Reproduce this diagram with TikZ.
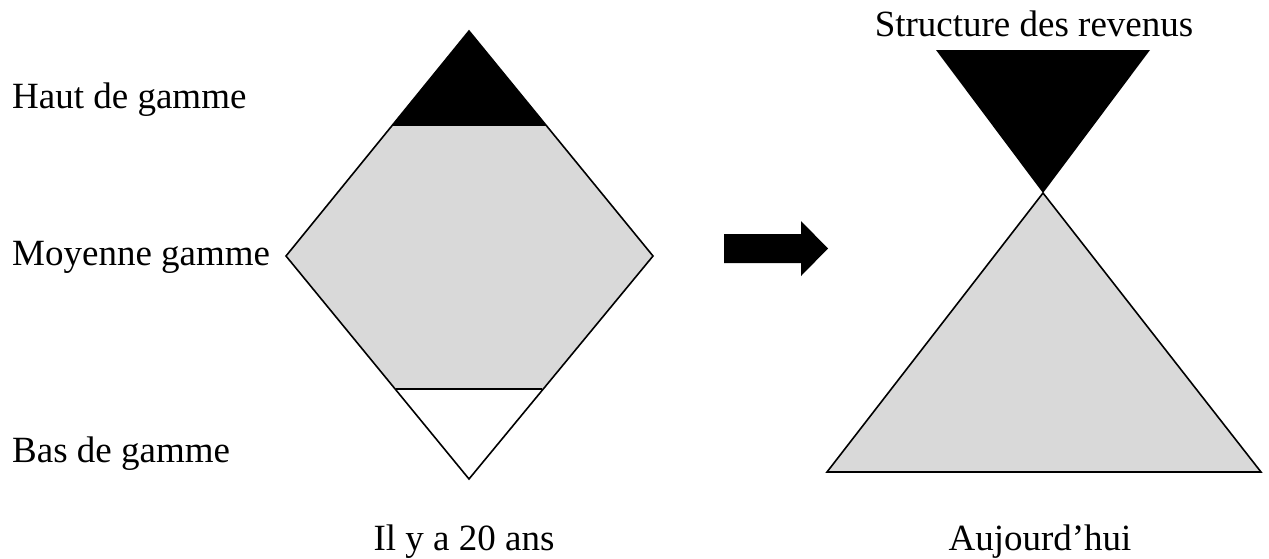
\documentclass[tikz,border=0pt]{standalone}
\usepackage{fontspec}
\setmainfont{Liberation Serif}
\definecolor{midgray}{RGB}{217,217,217}
\tikzset{
  lbl/.style={anchor=base west, inner sep=0pt, font=\fontsize{37}{44}\selectfont},
  captxt/.style={anchor=base, inner sep=0pt, font=\fontsize{37}{44}\selectfont},
  outline/.style={line width=1.6pt, line join=miter}
}
\begin{document}
\begin{tikzpicture}[x=1pt,y=-1pt]
\useasboundingbox (0,0) rectangle (1269,558);
% left diamond
\coordinate (dT) at (469,31);
\coordinate (dL) at (286,256);
\coordinate (dR) at (653,256);
\coordinate (dB) at (469,479);
\coordinate (hL) at (392.5,125);
\coordinate (hR) at (545.5,125);
\coordinate (bL) at (395.6,389);
\coordinate (bR) at (542.4,389);
\fill[midgray] (hL) -- (hR) -- (dR) -- (bR) -- (bL) -- (dL) -- cycle;
\fill[black] (dT) -- (hR) -- (hL) -- cycle;
\fill[white] (bL) -- (bR) -- (dB) -- cycle;
\draw[outline] (dT) -- (dR) -- (dB) -- (dL) -- cycle;
\draw[outline] (hL) -- (hR);
\draw[outline] (bL) -- (bR);
% arrow
\fill[black] (724,234) -- (801,234) -- (801,221) -- (828,248.5) -- (801,276) -- (801,263) -- (724,263) -- cycle;
% right shapes
\coordinate (tL) at (936,50);
\coordinate (tR) at (1150,50);
\coordinate (apex) at (1043,193);
\coordinate (gL) at (827,472);
\coordinate (gR) at (1261,472);
\fill[black] (tL) -- (tR) -- (apex) -- cycle;
\filldraw[fill=midgray, outline] (apex) -- (gR) -- (gL) -- cycle;
% labels
\node[lbl] (haut) at (12,108) {Haut de gamme};
\node[lbl] (moy) at (12,265) {Moyenne gamme};
\node[lbl] (bas) at (12,462) {Bas de gamme};
\node[captxt] (ilya) at (464,550) {Il y a 20 ans};
\node[captxt] (auj) at (1040,550) {Aujourd’hui};
\node[captxt] (struct) at (1034,36) {Structure des revenus};
\end{tikzpicture}
\end{document}
